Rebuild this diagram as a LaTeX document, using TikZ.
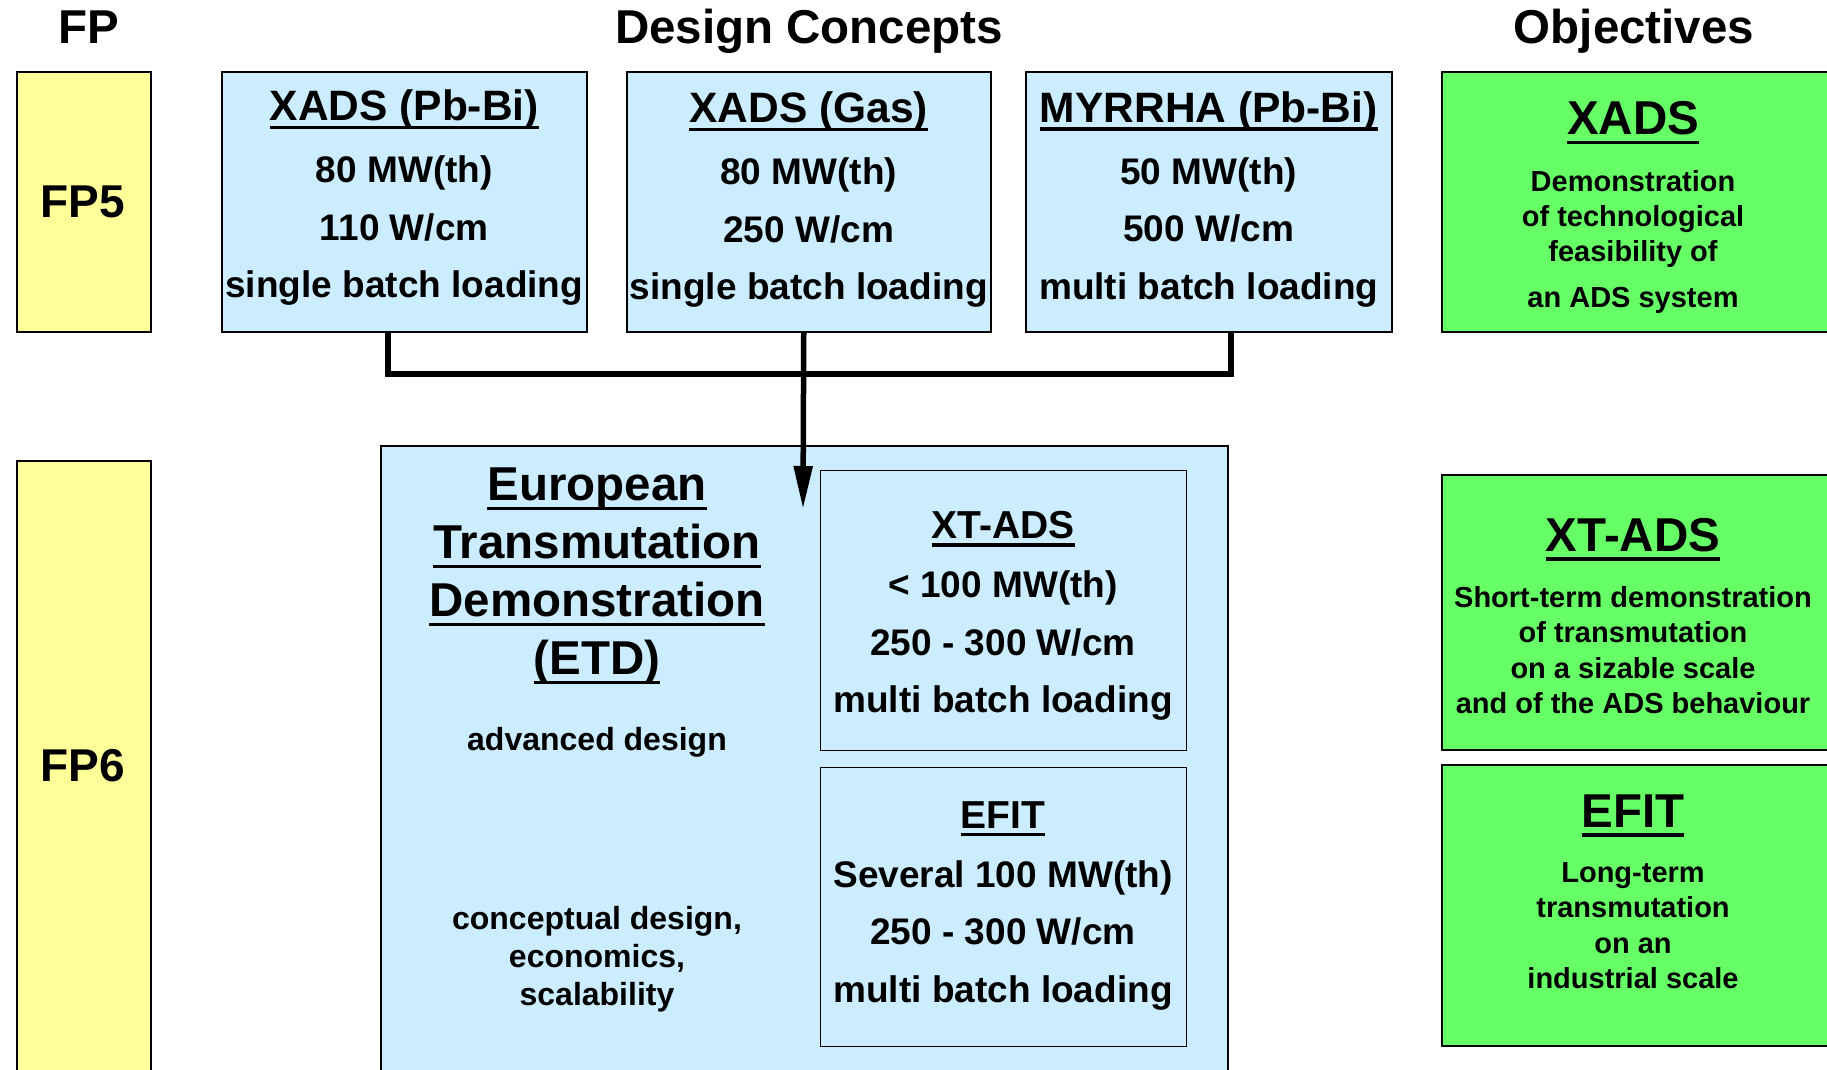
\documentclass[tikz,border=0pt]{standalone}
\usepackage{fontspec}
\setmainfont{Liberation Sans}
\usetikzlibrary{arrows.meta}

\definecolor{fpyellow}{HTML}{FFFF99}
\definecolor{dcblue}{HTML}{CCECFF}
\definecolor{objgreen}{HTML}{66FF66}

\newsavebox\ulsave
\newcommand{\ulbox}[1]{\sbox\ulsave{#1}\rlap{\rule[-0.2em]{\wd\ulsave}{0.08em}}\usebox\ulsave}

\tikzset{
  fpbox/.style={draw=black, line width=1.5pt, fill=fpyellow, anchor=north west, inner sep=0pt},
  conceptbox/.style={draw=black, line width=1.5pt, fill=dcblue, anchor=north west, inner sep=0pt},
  subbox/.style={draw=black, line width=1.2pt, anchor=north west, inner sep=0pt},
  objbox/.style={draw=black, line width=1.8pt, fill=objgreen, anchor=north west, inner sep=0pt},
  head/.style={font=\fontsize{47.5}{57}\selectfont\bfseries, anchor=base, inner sep=0pt},
  boxtext/.style={align=center, inner sep=0pt, font=\fontsize{37}{57.5}\selectfont\bfseries},
  objtext/.style={align=center, inner sep=0pt, font=\fontsize{29}{35.3}\selectfont\bfseries},
  bus/.style={line width=5.5pt}
}

\begin{document}
\begin{tikzpicture}[x=1pt, y=-1pt]
  \path[fill=white] (0,0) rectangle (1827,1069);
  \useasboundingbox (0,0) rectangle (1827,1069);

  % column heads
  \node[head] (fphead) at (89,43) {FP};
  \node[head] (dchead) at (809,43) {Design Concepts};
  \node[head] (objhead) at (1634,43) {Objectives};

  % framework programmes
  \node[fpbox, minimum width=134pt, minimum height=260pt] (fpfive) at (16,71) {};
  \node[fpbox, minimum width=134pt, minimum height=630pt] (fpsix) at (16,460) {};
  \node[font=\fontsize{46}{50}\selectfont\bfseries, inner sep=0pt] (fpfivet) at (83,202) {FP5};
  \node[font=\fontsize{46}{50}\selectfont\bfseries, inner sep=0pt] (fpsixt) at (83,766) {FP6};

  % FP5 design concepts
  \node[conceptbox, minimum width=365pt, minimum height=260pt] (xpb) at (221,71) {};
  \node[conceptbox, minimum width=364pt, minimum height=260pt] (xgas) at (626,71) {};
  \node[conceptbox, minimum width=366pt, minimum height=260pt] (myrrha) at (1025,71) {};
  \node[boxtext] (xpbt) at ([yshift=4pt]xpb.center)
    {{\fontsize{42.5}{50}\selectfont\ulbox{XADS (Pb-Bi)}}\\[4.5pt] 80 MW(th)\\ 110 W/cm\\ single batch loading};
  \node[boxtext] (xgast) at ([yshift=2pt]xgas.center)
    {{\fontsize{42.5}{50}\selectfont\ulbox{XADS (Gas)}}\\[4.5pt] 80 MW(th)\\ 250 W/cm\\ single batch loading};
  \node[boxtext] (myrrhat) at ([yshift=2.5pt]myrrha.center)
    {{\fontsize{42.5}{50}\selectfont\ulbox{MYRRHA (Pb-Bi)}}\\[4.5pt] 50 MW(th)\\ 500 W/cm\\ multi batch loading};

  % FP6 design
  \node[conceptbox, minimum width=847pt, minimum height=640pt] (etd) at (380,445) {};
  \node[subbox, minimum width=366pt, minimum height=280pt] (xtads) at (820,470) {};
  \node[subbox, minimum width=366pt, minimum height=279pt] (efit) at (820,767) {};
  \node[align=center, inner sep=0pt, font=\fontsize{47.5}{58}\selectfont\bfseries] (etdt) at (597,612.6)
    {\ulbox{European}\\ \ulbox{Transmutation}\\ \ulbox{Demonstration}\\ \ulbox{(ETD)}\\[17.5pt]
     {\fontsize{32}{38}\selectfont advanced design}};
  \node[align=center, inner sep=0pt, font=\fontsize{32}{38}\selectfont\bfseries] (etdc) at (597,959)
    {conceptual design,\\ economics,\\ scalability};
  \node[boxtext] (xtadst) at (1003,616)
    {{\fontsize{39}{45}\selectfont\ulbox{XT-ADS}}\\[1.5pt] < 100 MW(th)\\ 250 - 300 W/cm\\ multi batch loading};
  \node[boxtext] (efitt) at (1003,905.5)
    {{\fontsize{39}{45}\selectfont\ulbox{EFIT}}\\[1.5pt] Several 100 MW(th)\\ 250 - 300 W/cm\\ multi batch loading};

  % objectives
  \node[objbox, minimum width=400pt, minimum height=260pt] (oxads) at (1441,71) {};
  \node[objbox, minimum width=400pt, minimum height=275pt] (oxtads) at (1441,474) {};
  \node[objbox, minimum width=400pt, minimum height=281pt] (oefit) at (1441,764) {};
  \node[objtext] (oxadst) at (1633,207.7)
    {{\fontsize{47.5}{50}\selectfont\ulbox{XADS}}\\[21pt] Demonstration\\ of technological\\ feasibility of\\[10.5pt] an ADS system};
  \node[objtext] (oxtadst) at (1633,616)
    {{\fontsize{47.5}{50}\selectfont\ulbox{XT-ADS}}\\[21pt] Short-term demonstration\\ of transmutation\\ on a sizable scale\\ and of the ADS behaviour};
  \node[objtext] (oefitt) at (1633,891.7)
    {{\fontsize{47.5}{50}\selectfont\ulbox{EFIT}}\\[20pt] Long-term\\ transmutation\\ on an\\ industrial scale};

  % FP5 -> FP6
  \coordinate (busy) at (0,374);
  \coordinate (tip) at (803,509);
  \draw[bus] ([xshift=-16.5pt]xpb.south) -- ([xshift=-16.5pt]xpb.south |- busy) -| ([xshift=22pt]myrrha.south);
  \draw[bus, -{Triangle[length=43pt, width=18pt]}] ([xshift=-5pt]xgas.south) -- (tip);
\end{tikzpicture}
\end{document}
